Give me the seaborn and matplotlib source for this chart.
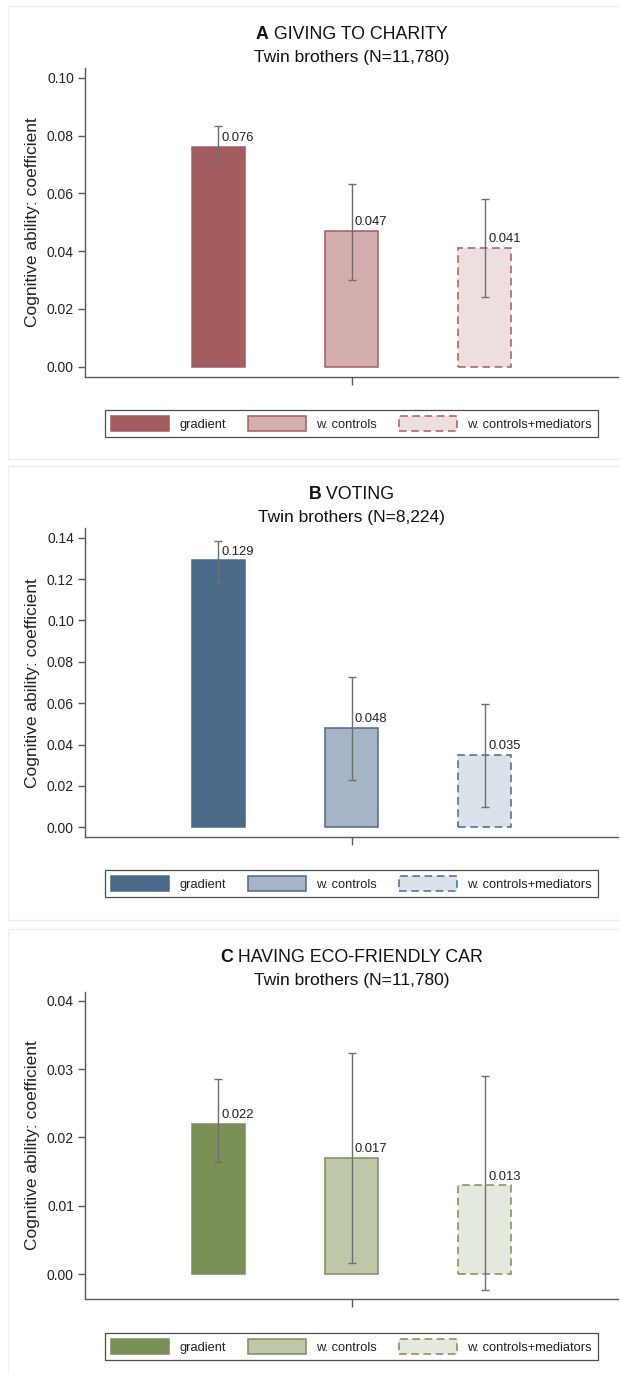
import numpy as np
import pandas as pd
import matplotlib
matplotlib.use("Agg")
import matplotlib.pyplot as plt
from matplotlib.patches import Patch, Rectangle
import seaborn as sns

sns.set_style("white")
plt.rcParams["font.family"] = ["Liberation Sans", "DejaVu Sans"]

# ---- data -------------------------------------------------------------
models = ["gradient", "w. controls", "w. controls+mediators"]

panel_letters = ["A", "B", "C"]
panel_titles = ["GIVING TO CHARITY", "VOTING", "HAVING ECO-FRIENDLY CAR"]
panel_subtitles = ["Twin brothers (N=11,780)", "Twin brothers (N=8,224)",
                   "Twin brothers (N=11,780)"]

coef_charity = [0.076, 0.047, 0.041]
ci_low_charity = [0.0696, 0.0300, 0.0241]
ci_high_charity = [0.0834, 0.0632, 0.0580]

coef_voting = [0.129, 0.048, 0.035]
ci_low_voting = [0.1187, 0.0229, 0.0100]
ci_high_voting = [0.1386, 0.0727, 0.0598]

coef_car = [0.022, 0.017, 0.013]
ci_low_car = [0.0164, 0.0016, -0.0023]
ci_high_car = [0.0286, 0.0324, 0.0290]

yticks_charity = [0.00, 0.02, 0.04, 0.06, 0.08, 0.10]
yticks_voting = [0.00, 0.02, 0.04, 0.06, 0.08, 0.10, 0.12, 0.14]
yticks_car = [0.00, 0.01, 0.02, 0.03, 0.04]

ylabel = "Cognitive ability: coefficient"

# ---- styles -----------------------------------------------------------
fills = [
    ["#A45D5F", "#D2AEAF", "#EDDFDF"],
    ["#4A6A8A", "#A5B5C5", "#DBE1E8"],
    ["#7A9056", "#BDC8AB", "#E4E9DD"],
]
edges = ["#A45D5F", "#4A6A8A", "#7A9056"]
ylims = [(-0.0035, 0.1033), (-0.0048, 0.1445), (-0.00365, 0.0413)]

W, H = 620, 1374
fig = plt.figure(figsize=(W / 100, H / 100), dpi=100)
fig.patch.set_facecolor("white")


def fx(px):
    return px / W


def fy(py):
    return 1 - py / H


# panel frames (top, bottom in px)
frames = [(6, 459), (466, 920), (929, 1390)]
for top, bot in frames:
    fig.patches.append(Rectangle((fx(8), fy(bot)), fx(640) - fx(8), fy(top) - fy(bot),
                                 transform=fig.transFigure, facecolor="none",
                                 edgecolor="#EFEFEF", lw=1.0, zorder=0))

ax_left, ax_right = 85, 618
ax_rows = [(68.3, 376.7), (528.3, 837.3), (991.7, 1299.3)]
title_base = [39, 499, 961.7]
sub_base = [61.7, 522, 985]
legend_top = [410, 870, 1333]

datasets = [
    (coef_charity, ci_low_charity, ci_high_charity, yticks_charity),
    (coef_voting, ci_low_voting, ci_high_voting, yticks_voting),
    (coef_car, ci_low_car, ci_high_car, yticks_car),
]

renderer = fig.canvas.get_renderer()
xc = fx((ax_left + ax_right) / 2)

for k, (coef, lo, hi, yt) in enumerate(datasets):
    top, bot = ax_rows[k]
    ax = fig.add_axes([fx(ax_left), fy(bot), fx(ax_right) - fx(ax_left), (bot - top) / H])
    df = pd.DataFrame({"model": models, "coef": coef})
    sns.barplot(data=df, x="model", y="coef", hue="model", order=models,
                hue_order=models, palette=fills[k], saturation=1, width=0.4,
                errorbar=None, legend=False, ax=ax, zorder=2)
    for i, bar in enumerate(ax.patches):
        bar.set_edgecolor(edges[k])
        bar.set_linewidth(1.1)
        if i == 2:
            bar.set_linestyle((0, (5, 3)))
    c = np.array(coef)
    yerr = np.vstack([c - np.array(lo), np.array(hi) - c])
    ax.errorbar(np.arange(3), c, yerr=yerr, fmt="none", ecolor="#6E6E6E",
                elinewidth=1.0, capsize=2.6, capthick=1.0, zorder=3)
    for i, v in enumerate(coef):
        ax.annotate(f"{v:.3f}", (i, v), xytext=(2.5, 2), textcoords="offset points",
                    ha="left", va="bottom", fontsize=9.4, color="#222222", zorder=4)

    ax.set_xlim(-1, 3)
    ax.set_ylim(*ylims[k])
    ax.set_xticks([1])
    ax.set_xticklabels([""])
    ax.set_yticks(yt)
    ax.set_yticklabels([f"{t:.2f}" for t in yt])
    ax.set_xlabel("")
    ax.set_ylabel(ylabel, fontsize=12.5, color="#222222", labelpad=5)
    for s in ["top", "right"]:
        ax.spines[s].set_visible(False)
    for s in ["left", "bottom"]:
        ax.spines[s].set_color("#5A5A5A")
        ax.spines[s].set_linewidth(1.0)
    ax.tick_params(axis="y", direction="out", length=5, width=1, color="#5A5A5A",
                   labelsize=10, labelcolor="#222222", pad=3, left=True)
    ax.tick_params(axis="x", direction="out", length=6, width=1, color="#5A5A5A",
                   bottom=True)
    ax.set_facecolor("white")

    # title: bold letter followed by regular text
    t1 = fig.text(0, fy(title_base[k]), panel_letters[k], fontsize=12.8,
                  fontweight="bold", ha="left", va="baseline", color="#111111")
    t2 = fig.text(0, fy(title_base[k]), " " + panel_titles[k], fontsize=12.8,
                  ha="left", va="baseline", color="#111111")
    w1 = t1.get_window_extent(renderer).width / fig.bbox.width
    w2 = t2.get_window_extent(renderer).width / fig.bbox.width
    x0 = xc - (w1 + w2) / 2
    t1.set_x(x0)
    t2.set_x(x0 + w1)
    fig.text(xc, fy(sub_base[k]), panel_subtitles[k], fontsize=12.5,
             ha="center", va="baseline", color="#111111")

    handles = []
    for i in range(3):
        handles.append(Patch(facecolor=fills[k][i], edgecolor=edges[k], linewidth=1.1,
                             linestyle=(0, (5, 3)) if i == 2 else "-"))
    leg = ax.legend(handles, models, loc="upper center", ncol=3,
                    bbox_to_anchor=(xc, fy(legend_top[k])), bbox_transform=fig.transFigure,
                    fontsize=9.3, frameon=True, fancybox=False, shadow=False,
                    handlelength=4.5, handleheight=1.4, handletextpad=0.78,
                    columnspacing=1.7, borderpad=0.45, borderaxespad=0)
    leg.get_frame().set_edgecolor("#222222")
    leg.get_frame().set_linewidth(0.9)
    for t in leg.get_texts():
        t.set_color("#222222")

fig.savefig("out.png", dpi=100, facecolor="white")
